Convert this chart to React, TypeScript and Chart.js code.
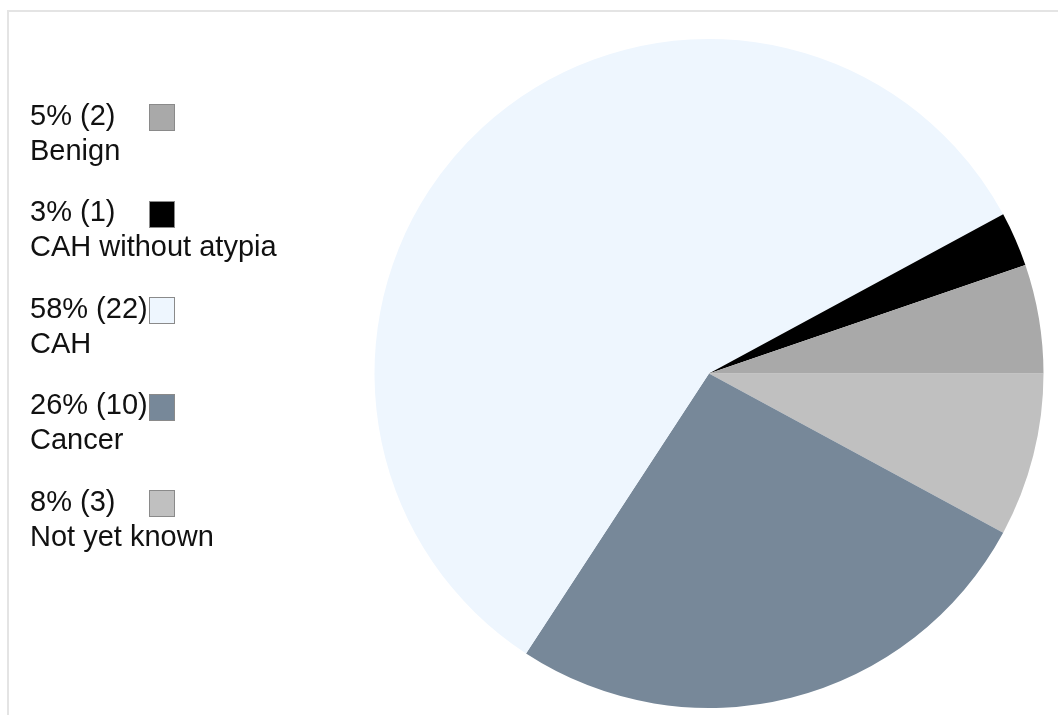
import React, { useEffect, useRef } from "react";
import { Chart, registerables } from "chart.js";

Chart.register(...registerables);

const categories = ["Benign", "CAH without atypia", "CAH", "Cancer", "Not yet known"];
const counts = [2, 1, 22, 10, 3];
const percentLabels = ["5%", "3%", "58%", "26%", "8%"];
const colors = ["#a9a9a9", "#000000", "#eef6fe", "#778899", "#c0c0c0"];

const FONT = '"Liberation Sans", Arial, Helvetica, sans-serif';

export default function App() {
  const ref = useRef<HTMLCanvasElement | null>(null);

  useEffect(() => {
    if (!ref.current) return;
    // slices run counter-clockwise from 3 o'clock, so feed them reversed
    const order = categories.map((_, i) => i).reverse();
    const chart = new Chart(ref.current, {
      type: "pie",
      data: {
        labels: order.map((i) => categories[i]),
        datasets: [
          {
            data: order.map((i) => counts[i]),
            backgroundColor: order.map((i) => colors[i]),
            borderWidth: 0,
          },
        ],
      },
      options: {
        animation: false,
        responsive: false,
        rotation: 90,
        layout: { padding: { left: 374.5, right: 14.5, top: 39, bottom: 7 } },
        plugins: {
          legend: { display: false },
          tooltip: { enabled: false },
        },
      },
    });
    return () => chart.destroy();
  }, []);

  return (
    <div style={{ position: "fixed", left: 0, top: 0, width: 1058, height: 715, background: "#fff", overflow: "hidden" }}>
      <div
        style={{
          position: "absolute",
          left: 7,
          top: 10,
          width: 1100,
          height: 800,
          borderLeft: "2px solid #e4e4e4",
          borderTop: "2px solid #e4e4e4",
        }}
      />
      <canvas ref={ref} width={1058} height={715} style={{ position: "absolute", left: 0, top: 0, width: 1058, height: 715 }} />
      {categories.map((c, i) => {
        const top = 97.5 + i * 96.5;
        return (
          <div key={c} style={{ position: "absolute", left: 30, top, fontFamily: FONT, fontSize: 29, lineHeight: "35px", color: "#111", whiteSpace: "nowrap" }}>
            <div>{`${percentLabels[i]} (${counts[i]})`}</div>
            <div>{c}</div>
            <div
              style={{
                position: "absolute",
                left: 119,
                top: 6.8,
                width: 24,
                height: 25,
                background: colors[i],
                border: "1px solid #8a8a8a",
              }}
            />
          </div>
        );
      })}
    </div>
  );
}
